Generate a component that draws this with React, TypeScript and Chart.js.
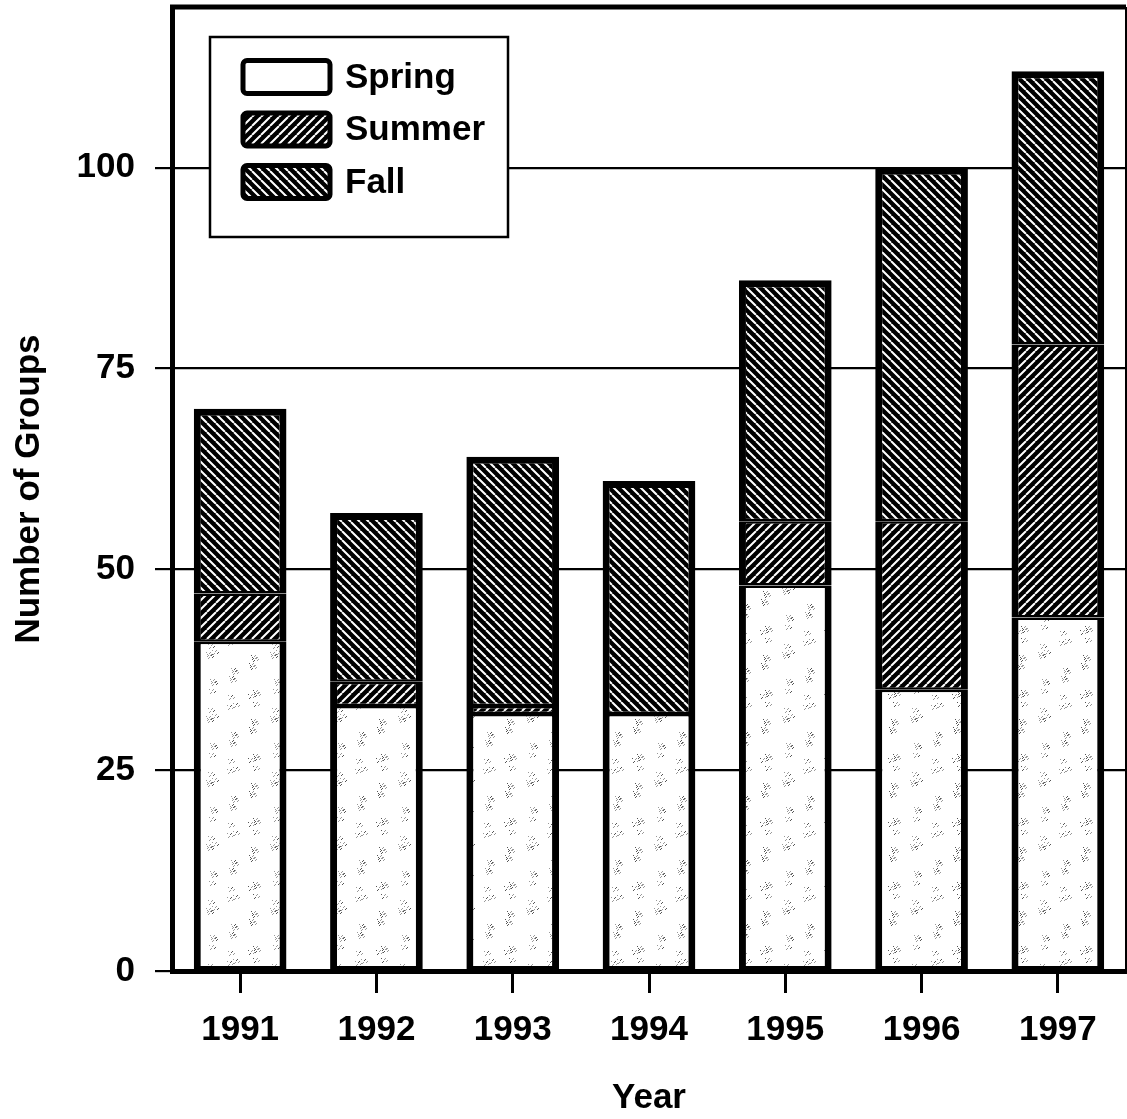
import React, { useEffect, useRef } from "react";
import { Chart, registerables } from "chart.js";

Chart.register(...registerables);

const years = ["1991", "1992", "1993", "1994", "1995", "1996", "1997"];
const springValues = [41, 33, 32, 32, 48, 35, 44];
const summerValues = [6, 3, 1, 0, 8, 21, 34];
const fallValues = [23, 21, 31, 29, 30, 44, 34];
const yTickValues = [0, 25, 50, 75, 100];
const seriesNames = ["Spring", "Summer", "Fall"];
const xTitle = "Year";
const yTitle = "Number of Groups";

const FONT = "'Liberation Sans', Arial, Helvetica, sans-serif";

function makeStripe(ctx: CanvasRenderingContext2D, dir: "fwd" | "back") {
  const p = 9;
  const c = document.createElement("canvas");
  c.width = p;
  c.height = p;
  const g = c.getContext("2d")!;
  g.fillStyle = "#000";
  g.fillRect(0, 0, p, p);
  g.strokeStyle = "#fff";
  g.lineWidth = 2;
  g.beginPath();
  for (let k = -1; k <= 1; k++) {
    if (dir === "back") {
      g.moveTo(k * p, 0);
      g.lineTo(k * p + p, p);
    } else {
      g.moveTo(k * p, p);
      g.lineTo(k * p + p, 0);
    }
  }
  g.stroke();
  return ctx.createPattern(c, "repeat")!;
}

function makeSpeckle(ctx: CanvasRenderingContext2D) {
  const s = 64;
  const c = document.createElement("canvas");
  c.width = s;
  c.height = s;
  const g = c.getContext("2d")!;
  g.fillStyle = "#fff";
  g.fillRect(0, 0, s, s);
  // deterministic texture: small clusters of grey grains
  for (let i = 0; i < 22; i++) {
    const cx = (i * 41 + (i >> 2) * 7) % s;
    const cy = (i * 23 + (i % 5) * 17) % s;
    for (let j = 0; j < 7; j++) {
      const x = (cx + ((j * 5) % 7) - 3 + s) % s;
      const y = (cy + ((j * 3) % 5) - 2 + s) % s;
      g.fillStyle = (i + j) % 3 === 0 ? "#555" : "#9a9a9a";
      g.fillRect(x, y, 1, 1);
    }
  }
  return ctx.createPattern(c, "repeat")!;
}

const framePlugin = {
  id: "frame",
  afterDraw(chart: any) {
    const { ctx, chartArea } = chart;
    ctx.save();
    ctx.strokeStyle = "#000";
    ctx.lineWidth = 5;
    ctx.beginPath();
    ctx.moveTo(chartArea.left - 2, chartArea.top);
    ctx.lineTo(chartArea.right, chartArea.top);
    ctx.stroke();
    ctx.lineWidth = 2;
    ctx.beginPath();
    ctx.moveTo(chartArea.right, chartArea.top);
    ctx.lineTo(chartArea.right, chartArea.bottom);
    ctx.stroke();
    ctx.restore();
  },
};

const legendPlugin = {
  id: "boxLegend",
  afterDraw(chart: any) {
    const ctx: CanvasRenderingContext2D = chart.ctx;
    ctx.save();
    const bx = 210, by = 37, bw = 298, bh = 200;
    ctx.fillStyle = "#fff";
    ctx.fillRect(bx, by, bw, bh);
    ctx.strokeStyle = "#000";
    ctx.lineWidth = 2.5;
    ctx.strokeRect(bx, by, bw, bh);
    const rowGap = 52.5;
    chart.data.datasets.forEach((ds: any, i: number) => {
      const cy = 77 + i * rowGap;
      const sx = 243, sw = 87, sh = 33;
      ctx.beginPath();
      (ctx as any).roundRect(sx, cy - sh / 2, sw, sh, 4);
      ctx.fillStyle = i === 0 ? "#fff" : ds.backgroundColor;
      ctx.fill();
      ctx.lineWidth = 5;
      ctx.strokeStyle = "#000";
      ctx.stroke();
      ctx.fillStyle = "#000";
      ctx.font = `bold 35px ${FONT}`;
      ctx.textBaseline = "middle";
      ctx.textAlign = "left";
      ctx.fillText(ds.label, 345, cy + 1);
    });
    ctx.restore();
  },
};

export default function App() {
  const ref = useRef<HTMLCanvasElement>(null);

  useEffect(() => {
    const canvas = ref.current!;
    const ctx = canvas.getContext("2d")!;
    const springFill = makeSpeckle(ctx);
    const summerFill = makeStripe(ctx, "fwd");
    const fallFill = makeStripe(ctx, "back");
    const font = { family: FONT, size: 35, weight: "bold" as const };

    const chart = new Chart(canvas, {
      type: "bar",
      data: {
        labels: years,
        datasets: [
          {
            label: seriesNames[0],
            data: springValues,
            backgroundColor: springFill as any,
            borderColor: "#000",
            borderWidth: { left: 7, right: 7, top: 2.5, bottom: 4 } as any,
            borderSkipped: false,
          },
          {
            label: seriesNames[1],
            data: summerValues,
            backgroundColor: summerFill as any,
            borderColor: "#000",
            borderWidth: { left: 7, right: 7, top: 2.5, bottom: 2.5 } as any,
            borderSkipped: false,
          },
          {
            label: seriesNames[2],
            data: fallValues,
            backgroundColor: fallFill as any,
            borderColor: "#000",
            borderWidth: { left: 7, right: 7, top: 7, bottom: 2.5 } as any,
            borderSkipped: false,
          },
        ],
      },
      options: {
        responsive: false,
        animation: false,
        devicePixelRatio: 1,
        layout: { padding: { top: 7, right: 1, left: 0, bottom: 0 } },
        datasets: { bar: { barPercentage: 0.68, categoryPercentage: 1 } },
        plugins: { legend: { display: false }, tooltip: { enabled: false } },
        scales: {
          x: {
            stacked: true,
            offset: true,
            grid: {
              display: true,
              drawOnChartArea: false,
              drawTicks: true,
              tickLength: 22,
              offset: false,
              color: "#000",
              lineWidth: 3,
            },
            border: { display: true, color: "#000", width: 5 },
            ticks: { color: "#000", font, padding: 16, maxRotation: 0, autoSkip: false },
            title: { display: true, text: xTitle, color: "#000", font, padding: { top: 0, bottom: 0 } },
            afterFit: (s: any) => {
              s.height = 148;
              s.paddingLeft = 0;
              s.paddingRight = 0;
            },
          },
          y: {
            stacked: true,
            min: 0,
            max: 120,
            z: 1,
            afterBuildTicks: (s: any) => {
              s.ticks = yTickValues.map((v) => ({ value: v }));
            },
            grid: { color: "#000", lineWidth: 2.2, tickLength: 17, drawTicks: true },
            border: { display: true, color: "#000", width: 5 },
            ticks: { color: "#000", font, padding: 20 },
            title: { display: true, text: yTitle, color: "#000", font, padding: { top: 8, bottom: 0 } },
            afterFit: (s: any) => {
              s.width = 172;
              s.paddingTop = 0;
              s.paddingBottom = 0;
            },
          },
        },
      },
      plugins: [framePlugin, legendPlugin],
    });
    return () => chart.destroy();
  }, []);

  return (
    <div style={{ position: "absolute", left: 0, top: 0, width: 1127, height: 1119, background: "#fff" }}>
      <canvas ref={ref} width={1127} height={1119} style={{ display: "block" }} />
    </div>
  );
}
